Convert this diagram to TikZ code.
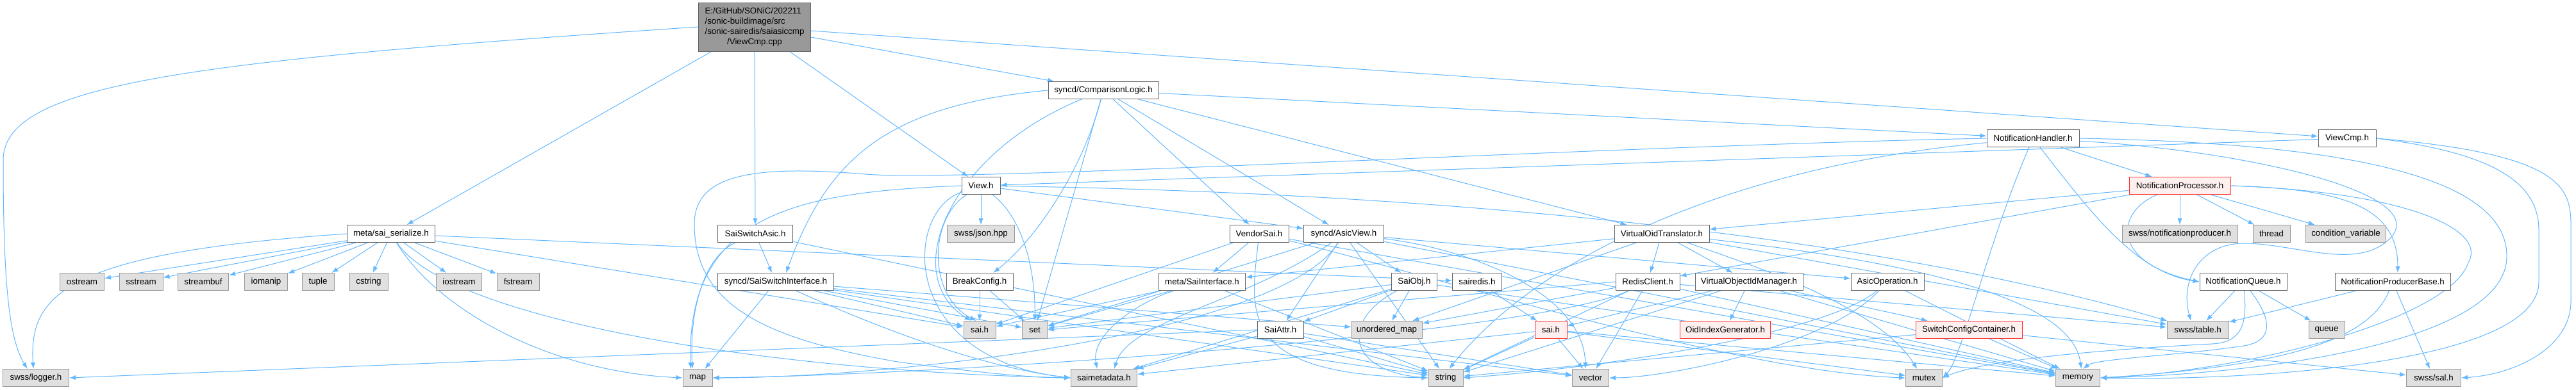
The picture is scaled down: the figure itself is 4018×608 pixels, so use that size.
\documentclass[tikz,border=0pt]{standalone}
\usepackage{fontspec}
\setmainfont{Liberation Sans}
\usetikzlibrary{arrows.meta}
\definecolor{edgeblue}{HTML}{63B8FF}
\definecolor{gfill}{HTML}{E0E0E0}
\definecolor{gborder}{HTML}{999999}
\definecolor{wborder}{HTML}{666666}
\definecolor{rfill}{HTML}{FFF0F0}
\definecolor{rborder}{HTML}{FF3030}
\definecolor{rootfill}{HTML}{999999}
\pgfdeclarelayer{back}
\pgfdeclarelayer{edges}
\pgfsetlayers{back,edges,main}
\begin{document}
\begin{tikzpicture}[x=0.75pt,y=-0.75pt,
  font=\fontsize{10pt}{12pt}\selectfont,
  base/.style={rectangle, minimum height=20.25pt, inner sep=1pt, line width=0.75pt},
  wnode/.style={base, draw=wborder, fill=white},
  gnode/.style={base, draw=gborder, fill=gfill},
  rnode/.style={base, draw=rborder, fill=rfill},
  wd/.style={minimum width=#1*0.75pt},
  edg/.style={draw=edgeblue, line width=0.75pt, -{Latex[length=7.5pt,width=5.5pt]}}]
\begin{pgfonlayer}{back}
\fill[white] (0,0) rectangle (4018,608);
\end{pgfonlayer}
\useasboundingbox (0,0) rectangle (4018,608);
% rank 0
\node[base, draw=wborder, fill=rootfill, minimum width=131.25pt, minimum height=57pt] (root) at (1177,42)
  {\begin{tabular}{@{}l@{}}E:/GitHub/SONiC/202211\\/sonic-buildimage/src\\/sonic-sairedis/saiasiccmp\\\multicolumn{1}{@{}c@{}}{/ViewCmp.cpp}\end{tabular}};
% rank 1
\node[wnode, wd=172] (CL) at (1721,141) {syncd/ComparisonLogic.h};
% rank 2
\node[wnode, wd=144] (NH) at (3171,216) {NotificationHandler.h};
\node[wnode, wd=90] (VCh) at (3661,216) {ViewCmp.h};
% rank 3
\node[wnode, wd=60] (Vh) at (1530,290) {View.h};
\node[rnode, wd=158] (NP) at (3400,290) {NotificationProcessor.h};
% rank 4
\node[wnode, wd=137] (ser) at (610,365) {meta/sai\_serialize.h};
\node[wnode, wd=117] (SSA) at (1178,365) {SaiSwitchAsic.h};
\node[gnode, wd=105] (json) at (1530,365) {swss/json.hpp};
\node[wnode, wd=92] (VS) at (1964,365) {VendorSai.h};
\node[wnode, wd=125] (AV) at (2096,365) {syncd/AsicView.h};
\node[wnode, wd=148] (VOT) at (2592,365) {VirtualOidTranslator.h};
\node[gnode, wd=180] (snp) at (3400,365) {swss/notificationproducer.h};
\node[gnode, wd=58] (nthread) at (3543,365) {thread};
\node[gnode, wd=125] (cv) at (3659,365) {condition\_variable};
% rank 5
\node[gnode, wd=69] (ostream) at (128,440) {ostream};
\node[gnode, wd=68] (sstream) at (220,440) {sstream};
\node[gnode, wd=79] (streambuf) at (317,440) {streambuf};
\node[gnode, wd=67] (iomanip) at (415,440) {iomanip};
\node[gnode, wd=50] (tuple) at (496,440) {tuple};
\node[gnode, wd=60] (cstring) at (575,440) {cstring};
\node[gnode, wd=71] (iostream) at (716,440) {iostream};
\node[gnode, wd=66] (fstream) at (808,440) {fstream};
\node[wnode, wd=181] (SSI) at (1210,440) {syncd/SaiSwitchInterface.h};
\node[wnode, wd=104] (BC) at (1528,440) {BreakConfig.h};
\node[wnode, wd=135] (SI) at (1875,440) {meta/SaiInterface.h};
\node[wnode, wd=71] (SO) at (2206,440) {SaiObj.h};
\node[wnode, wd=77] (sairedis) at (2304,440) {sairedis.h};
\node[wnode, wd=100] (RC) at (2570,440) {RedisClient.h};
\node[wnode, wd=168] (VOIM) at (2728,440) {VirtualObjectIdManager.h};
\node[wnode, wd=114] (AO) at (2944,440) {AsicOperation.h};
\node[wnode, wd=136] (NQ) at (3499,440) {NotificationQueue.h};
\node[wnode, wd=180] (NPB) at (3732,440) {NotificationProducerBase.h};
% rank 6
\node[gnode, wd=50] (saih) at (1528,515) {sai.h};
\node[gnode, wd=39] (nset) at (1614,515) {set};
\node[wnode, wd=72] (SA) at (1997,515) {SaiAttr.h};
\node[gnode, wd=110] (umap) at (2163,515) {unordered\_map};
\node[rnode, wd=50] (saihr) at (2419,515) {sai.h};
\node[rnode, wd=141] (OIG) at (2691,515) {OidIndexGenerator.h};
\node[rnode, wd=166] (SCC) at (3071,515) {SwitchConfigContainer.h};
\node[gnode, wd=96] (table) at (3428,515) {swss/table.h};
\node[gnode, wd=56] (nqueue) at (3629,515) {queue};
% rank 7
\node[gnode, wd=103] (logger) at (56,590) {swss/logger.h};
\node[gnode, wd=46] (nmap) at (1088,590) {map};
\node[gnode, wd=103] (smd) at (1722,590) {saimetadata.h};
\node[gnode, wd=54] (nstring) at (2255,590) {string};
\node[gnode, wd=57] (nvector) at (2481,590) {vector};
\node[gnode, wd=57] (mutex) at (3001,590) {mutex};
\node[gnode, wd=69] (memory) at (3241,590) {memory};
\node[gnode, wd=85] (sal) at (3796,590) {swss/sal.h};

\begin{pgfonlayer}{edges}
% root
\draw[edg] (root.west) .. controls (300,95) and (5,130) .. (5,250) .. controls (5,450) and (15,530) .. ([xshift=-10pt]logger.north);
\draw[edg] (root) -- (ser);
\draw[edg] (root) -- (SSA);
\draw[edg] (root) -- (Vh);
\draw[edg] (root) -- (CL);
\draw[edg] (root) -- (VCh);
% ComparisonLogic
\draw[edg] (CL.west) .. controls (1380,165) and (1290,250) .. ([xshift=12pt]SSI.north);
\draw[edg] (CL) .. controls (1480,240) and (1400,430) .. ([xshift=-10pt]saih.north);
\draw[edg] (CL) .. controls (1690,260) and (1620,370) .. ([xshift=16pt]BC.north);
\draw[edg] (CL) -- (nset);
\draw[edg] (CL) -- (VS);
\draw[edg] (CL) -- (AV);
\draw[edg] (CL) -- (VOT);
\draw[edg] (CL) -- (NH);
% View.h
\draw[edg] (Vh) -- (json);
\draw[edg] (Vh) .. controls (1450,340) and (1445,460) .. ([xshift=-4pt]saih.north);
\draw[edg] (Vh) .. controls (1410,330) and (1400,560) .. (smd.west);
\draw[edg] (Vh) .. controls (1595,340) and (1615,420) .. (nset);
\draw[edg] (Vh.west) .. controls (1250,300) and (1070,330) .. ([xshift=-8pt]nmap.north);
\draw[edg] (Vh) -- (AV);
\draw[edg] (Vh) .. controls (2200,300) and (2900,360) .. (table);
% NotificationHandler
\draw[edg] (NH) -- (NP);
\draw[edg] (NH) .. controls (2700,260) and (2400,400) .. ([xshift=4pt]nstring.north);
\draw[edg] (NH) .. controls (3100,380) and (3060,560) .. (mutex.east);
\draw[edg] (NH.east) .. controls (3750,225) and (3910,300) .. (3910,400) .. controls (3910,540) and (3500,585) .. (memory.east);
\draw[edg] (NH) .. controls (3500,235) and (3790,300) .. (3730,370) .. controls (3680,425) and (3580,380) .. (3500,380) .. controls (3430,380) and (3400,440) .. ([xshift=-8pt]table.north);
\draw[edg] (NH.west) .. controls (2500,228) and (1500,285) .. (1350,272) .. controls (1180,258) and (1083,270) .. (1083,350) .. controls (1083,480) and (1200,530) .. (1400,565) .. controls (1550,585) and (1620,590) .. (smd.west);
\draw[edg] (NH) .. controls (3260,330) and (3330,425) .. (NQ.west);
% ViewCmp.h
\draw[edg] (VCh) -- (Vh);
\draw[edg] (VCh.east) .. controls (3990,240) and (4010,290) .. (4010,350) -- (4010,470) .. controls (4010,545) and (3920,585) .. (sal.east);
\draw[edg] (VCh.east) .. controls (3900,240) and (3960,290) .. (3960,360) -- (3960,440) .. controls (3960,570) and (3500,595) .. (memory.east);
% NotificationProcessor
\draw[edg] (NP) -- (snp);
\draw[edg] (NP) -- (nthread);
\draw[edg] (NP) -- (cv);
\draw[edg] (NP) .. controls (3300,330) and (3290,410) .. (NQ.west);
\draw[edg] (NP.east) .. controls (3650,295) and (3740,320) .. ([xshift=6pt]NPB.north);
\draw[edg] (NP.east) .. controls (3760,300) and (3880,360) .. (3850,410) .. controls (3820,500) and (3500,580) .. (memory.east);
\draw[edg] (NP) -- (VOT);
\draw[edg] (NP) -- (RC);
% NotificationQueue
\draw[edg] (NQ) -- (table);
\draw[edg] (NQ) -- (nqueue);
\draw[edg] (NQ) .. controls (3530,480) and (3560,530) .. (3500,540) .. controls (3400,555) and (3270,560) .. ([xshift=6pt]memory.north);
\draw[edg] (NQ) .. controls (3505,500) and (3500,535) .. (3450,537) .. controls (3300,545) and (3100,560) .. (mutex.east);
% NotificationProducerBase
\draw[edg] (NPB) -- (table);
\draw[edg] (NPB) -- (sal);
\draw[edg] (NPB) .. controls (3700,520) and (3600,570) .. (memory.east);
% VirtualOidTranslator
\draw[edg] (VOT) -- (RC);
\draw[edg] (VOT) -- (VOIM);
\draw[edg] (VOT) -- (SI);
\draw[edg] (VOT) -- (umap);
\draw[edg] (VOT) .. controls (2750,420) and (2930,480) .. ([xshift=-8pt]mutex.north);
\draw[edg] (VOT) -- (table);
\draw[edg] (VOT) .. controls (2900,400) and (3230,450) .. ([xshift=4pt]memory.north);
% RedisClient
\draw[edg] (RC) -- (nvector);
\draw[edg] (RC) -- (umap);
\draw[edg] (RC) -- (nstring);
\draw[edg] (RC.west) .. controls (2300,460) and (1800,500) .. (nset.east);
\draw[edg] (RC) .. controls (2400,520) and (1500,585) .. (nmap.east);
\draw[edg] (RC) -- (memory);
\draw[edg] (RC) -- (table);
% VirtualObjectIdManager
\draw[edg] (VOIM) -- (OIG);
\draw[edg] (VOIM) -- (saihr);
\draw[edg] (VOIM) -- (SCC);
\draw[edg] (VOIM) -- (memory);
\draw[edg] (VOIM) -- (nstring);
% AsicOperation
\draw[edg] (AO) .. controls (2850,520) and (2500,575) .. (nstring.east);
\draw[edg] (AO) -- (memory);
\draw[edg] (AO) .. controls (2850,540) and (2600,590) .. (nvector.east);
% SwitchConfigContainer
\draw[edg] (SCC) -- (memory);
\draw[edg] (SCC) -- (sal);
\draw[edg] (SCC) -- (nstring);
% sai.h (red)
\draw[edg] (saihr) -- (nvector);
\draw[edg] (saihr) -- (nstring);
\draw[edg] (saihr) -- (memory);
\draw[edg] (saihr) -- (mutex);
\draw[edg] (saihr) -- (smd);
% sairedis
\draw[edg] (sairedis) -- (saihr);
% SaiObj
\draw[edg] (SO) -- (SA);
\draw[edg] (SO) -- (umap);
\draw[edg] (SO) .. controls (2090,500) and (2100,580) .. (nstring.west);
\draw[edg] (SO) -- (smd);
\draw[edg] (SO) -- (nset);
\draw[edg] (SO) -- (memory);
% SaiAttr
\draw[edg] (SA) -- (smd);
\draw[edg] (SA) -- (nstring);
\draw[edg] (SA) -- (nvector);
\draw[edg] (SA.west) -- (logger.east);
% AsicView
\draw[edg] (AV) -- (SO);
\draw[edg] (AV) -- (SA);
\draw[edg] (AV) -- (AO);
\draw[edg] (AV) .. controls (1950,470) and (1760,500) .. ([xshift=12pt]smd.north);
\draw[edg] (AV) -- (nset);
\draw[edg] (AV) .. controls (2000,520) and (1400,590) .. (nmap.east);
\draw[edg] (AV) .. controls (2300,390) and (2470,460) .. ([xshift=-6pt]nvector.north);
\draw[edg] (AV) -- (memory);
\draw[edg] (AV) -- (nstring);
% VendorSai
\draw[edg] (VS) -- (SI);
\draw[edg] (VS) -- (saih);
\draw[edg] (VS) .. controls (1950,490) and (1930,585) .. (nstring.west);
\draw[edg] (VS) -- (memory);
\draw[edg] (VS) .. controls (2200,420) and (2700,580) .. (mutex.west);
% SaiInterface
\draw[edg] (SI) .. controls (1780,470) and (1700,520) .. ([xshift=-8pt]smd.north);
\draw[edg] (SI) -- (saih);
\draw[edg] (SI) -- (nstring);
\draw[edg] (SI) -- (nset);
% SaiSwitchInterface
\draw[edg] (SSI) -- (nmap);
\draw[edg] (SSI) -- (saih);
\draw[edg] (SSI) -- (nset);
\draw[edg] (SSI) .. controls (1300,480) and (1500,570) .. (smd.west);
\draw[edg] (SSI) -- (nstring);
\draw[edg] (SSI) -- (nvector);
\draw[edg] (SSI) -- (umap);
% SaiSwitchAsic
\draw[edg] (SSA) -- (SSI);
\draw[edg] (SSA) .. controls (1100,400) and (1075,480) .. ([xshift=-6pt]nmap.north);
\draw[edg] (SSA) -- (nstring);
% BreakConfig
\draw[edg] (BC) -- (saih);
\draw[edg] (BC) -- (nset);
% sai_serialize
\draw[edg] (ser) -- (ostream);
\draw[edg] (ser) -- (sstream);
\draw[edg] (ser) -- (streambuf);
\draw[edg] (ser) -- (iomanip);
\draw[edg] (ser) -- (tuple);
\draw[edg] (ser) -- (cstring);
\draw[edg] (ser) -- (iostream);
\draw[edg] (ser) -- (fstream);
\draw[edg] (ser.west) .. controls (100,395) and (45,460) .. ([xshift=-3pt]logger.north);
\draw[edg] (ser) .. controls (680,480) and (850,580) .. (nmap.west);
\draw[edg] (ser) -- (saih);
\draw[edg] (ser) .. controls (700,500) and (1200,580) .. (smd.west);
\draw[edg] (ser) -- (sairedis);
\end{pgfonlayer}
\end{tikzpicture}
\end{document}
